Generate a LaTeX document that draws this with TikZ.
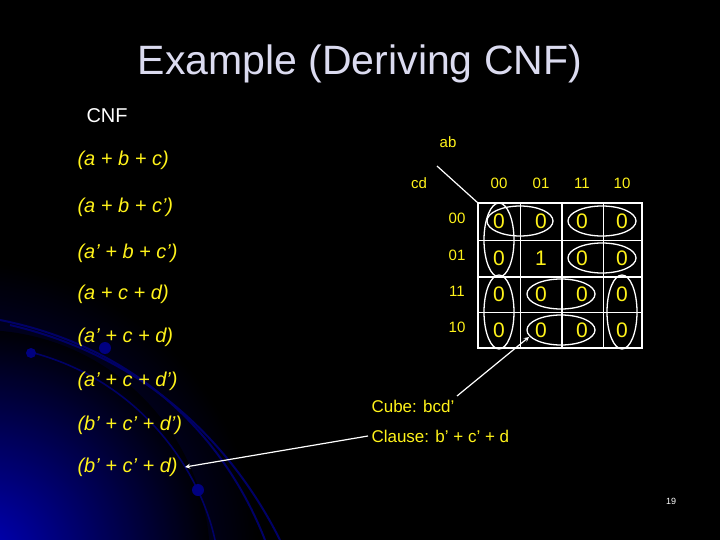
\documentclass[tikz,border=0pt]{standalone}
\usepackage{fontspec}
\setmainfont{Liberation Sans}
\begin{document}
\begin{tikzpicture}[x=1pt,y=-1pt,
  yel/.style={text=yellow!90!white},
  cls/.style={yel,anchor=west,font=\fontsize{20}{20}\selectfont\itshape},
  lab/.style={yel,font=\fontsize{15}{15}\selectfont},
  val/.style={yel,font=\fontsize{21}{21}\selectfont},
  ov/.style={draw=white,line width=1.3pt},
  arr/.style={draw=white,line width=1.2pt,-stealth}]
\fill[black] (0,0) rectangle (720,540);
\begin{scope}
\clip (0,0) rectangle (720,540);
\shade[inner color=blue!85!black,outer color=black] (-40,560) circle (300);
\fill[black,opacity=0.35] (0,0) rectangle (720,540);
\shade[inner color=blue!80!black,outer color=black,opacity=0.8] (-20,560) circle (230);
\draw[blue!40!black,line width=2pt] (0,320) .. controls (150,350) and (230,450) .. (265,540);
\draw[blue!40!black,line width=2pt] (10,325) .. controls (160,360) and (240,460) .. (280,540);
\draw[blue!40!black,line width=1.6pt] (30,352) .. controls (140,380) and (200,470) .. (215,540);
\fill[blue!50!black] (105,348) circle (6);
\fill[blue!50!black] (31,353) circle (5);
\fill[blue!50!black] (198,490) circle (6);
\end{scope}
\useasboundingbox (0,0) rectangle (720,540);
\node[text=gray!60!blue!20!white,font=\fontsize{41}{41}\selectfont] (title) at (360,64) {Example (Deriving CNF)};
\node[text=white,font=\fontsize{20}{20}\selectfont,anchor=west] (cnf) at (83,116) {CNF};
\node[cls] (c1) at (74,160) {(a + b + c)};
\node[cls] (c2) at (74,207) {(a + b + c’)};
\node[cls] (c3) at (74,253) {(a’ + b + c’)};
\node[cls] (c4) at (74,294) {(a + c + d)};
\node[cls] (c5) at (74,337) {(a’ + c + d)};
\node[cls] (c6) at (74,381) {(a’ + c + d’)};
\node[cls] (c7) at (74,425) {(b’ + c’ + d’)};
\node[cls] (c8) at (74,467) {(b’ + c’ + d)};
% K-map
\node[lab] (ab) at (448,142) {ab};
\node[lab] (cd) at (419,183) {cd};
\coordinate (dtop) at (437,166);
\coordinate (corner) at (478,203);
\draw[white,line width=1.2pt] (dtop) -- (corner);
\foreach \x/\t in {499/00,541/01,582/11,622/10}{\node[lab] at (\x,183) {\t};}
\foreach \y/\t in {218/00,255/01,291/11,327/10}{\node[lab] at (457,\y) {\t};}
\draw[white,line width=1pt] (520,203) -- (520,348) (603,203) -- (603,348) (478,240) -- (642,240) (478,312) -- (642,312);
\draw[white,line width=1.8pt] (562,203) -- (562,348) (478,277) -- (642,277);
\draw[white,line width=2.2pt] (478,203) rectangle (642,348);
\foreach \x in {499,541,582,622}{\foreach \y in {221,258,294,330}{\node[val] at (\x,\y) {0};}}
\fill[black] (541,258) circle (10);
\node[val] (one) at (541,258) {1};
\draw[ov] (499,240) ellipse (15 and 37);
\draw[ov] (520,221) ellipse (33 and 15);
\draw[ov] (602,221) ellipse (34 and 15);
\draw[ov] (602,258) ellipse (34 and 15);
\draw[ov] (499,312) ellipse (15 and 37);
\draw[ov] (561,294) ellipse (34 and 15);
\draw[ov] (561,330) ellipse (34 and 15);
\draw[ov] (622,312) ellipse (15 and 37);
\coordinate (cellp) at (529,337);
\node[yel,anchor=west,font=\fontsize{17}{17}\selectfont] (cube) at (368,406) {Cube: bcd’};
\node[yel,anchor=west,font=\fontsize{17}{17}\selectfont] (clause) at (368,436) {Clause: b’ + c’ + d};
\coordinate (cubestart) at (457,396);
\draw[arr] (cubestart) -- (cellp);
\draw[arr] (clause.west) -- ([xshift=4pt]c8.east);
\node[text=white,font=\fontsize{9}{9}\selectfont] (pg) at (671,501) {19};
\end{tikzpicture}
\end{document}
